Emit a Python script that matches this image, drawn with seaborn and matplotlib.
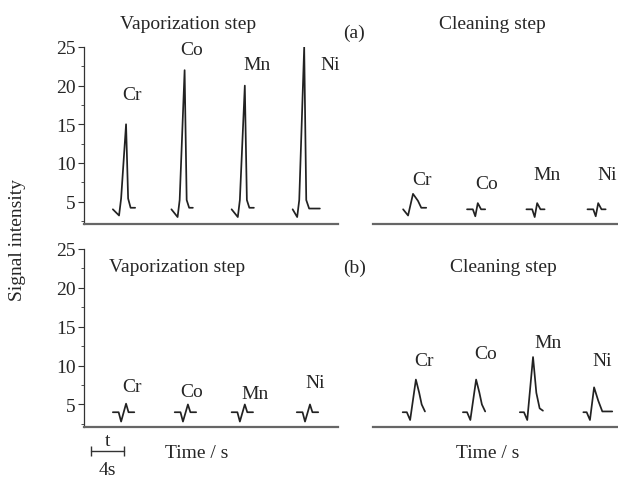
import matplotlib
matplotlib.use("Agg")
import matplotlib.pyplot as plt
import seaborn as sns
import pandas as pd
from matplotlib.ticker import MultipleLocator

sns.set_theme(style="white")
plt.rcParams['font.family'] = ['Liberation Serif', 'DejaVu Serif']

elements = ["Cr", "Co", "Mn", "Ni"]
y_ticks = [5, 10, 15, 20, 25]

# ---- (a) vaporization step: peak times (s) and traces (offsets from peak, signal)
vap_a_centers = [5.1, 12.2, 19.5, 26.7]
vap_a_offsets = [[-1.6, -0.85, -0.6, 0.0, 0.25, 0.55, 1.1],
                 [-1.6, -0.85, -0.6, 0.0, 0.25, 0.55, 1.0],
                 [-1.6, -0.85, -0.6, 0.0, 0.25, 0.55, 1.1],
                 [-1.4, -0.85, -0.6, 0.0, 0.25, 0.6, 1.9]]
vap_a_signal = [[4.0, 3.2, 5.4, 15.0, 5.4, 4.2, 4.2],
                [4.0, 3.0, 5.2, 22.0, 5.2, 4.2, 4.2],
                [4.0, 3.0, 5.2, 20.0, 5.2, 4.2, 4.2],
                [4.0, 3.0, 5.2, 25.0, 5.2, 4.1, 4.1]]
vap_a_label_x = [5.8, 13.1, 21.0, 29.8]
vap_a_label_y = [18.9, 24.7, 22.8, 22.8]

# ---- (a) cleaning step
cln_a_centers = [4.85, 12.7, 19.9, 27.3]
cln_a_offsets = [[-1.2, -0.6, 0.0, 0.6, 1.0, 1.6],
                 [-1.3, -0.6, -0.3, 0.0, 0.4, 0.9],
                 [-1.3, -0.6, -0.3, 0.0, 0.4, 0.9],
                 [-1.3, -0.6, -0.3, 0.0, 0.4, 0.9]]
cln_a_signal = [[4.0, 3.2, 6.0, 5.1, 4.2, 4.2],
                [4.0, 4.0, 3.1, 4.8, 4.0, 4.0],
                [4.0, 4.0, 3.0, 4.8, 4.0, 4.0],
                [4.0, 4.0, 3.1, 4.8, 4.0, 4.0]]
cln_a_label_x = [5.9, 13.8, 21.1, 28.4]
cln_a_label_y = [7.9, 7.3, 8.5, 8.5]

# ---- (b) vaporization step
vap_b_centers = [5.1, 12.6, 19.5, 27.4]
vap_b_offsets = [[-1.6, -0.9, -0.6, 0.0, 0.3, 1.0]] * 4
vap_b_signal = [[4.0, 4.0, 2.8, 5.1, 4.0, 4.0],
                [4.0, 4.0, 2.8, 5.0, 4.0, 4.0],
                [4.0, 4.0, 2.8, 5.0, 4.0, 4.0],
                [4.0, 4.0, 2.8, 5.0, 4.0, 4.0]]
vap_b_label_x = [5.8, 13.0, 20.7, 28.0]
vap_b_label_y = [7.3, 6.7, 6.4, 7.8]

# ---- (b) cleaning step
cln_b_centers = [5.2, 12.5, 19.4, 26.8]
cln_b_offsets = [[-1.6, -1.1, -0.7, 0.0, 0.4, 0.7, 1.1],
                 [-1.6, -1.1, -0.7, 0.0, 0.4, 0.7, 1.1],
                 [-1.6, -1.1, -0.7, 0.0, 0.4, 0.8, 1.2],
                 [-1.3, -0.9, -0.5, 0.0, 0.5, 1.0, 2.2]]
cln_b_signal = [[4.0, 4.0, 3.0, 8.2, 6.5, 5.0, 4.1],
                [4.0, 4.0, 3.0, 8.2, 6.5, 5.0, 4.1],
                [4.0, 4.0, 3.0, 11.1, 6.5, 4.5, 4.2],
                [4.0, 4.0, 3.0, 7.2, 5.5, 4.1, 4.1]]
cln_b_label_x = [6.2, 13.6, 21.2, 27.8]
cln_b_label_y = [10.7, 11.5, 13.0, 10.7]

W, H = 618, 481
fig = plt.figure(figsize=(W / 100, H / 100), dpi=100)

def px_axes(x0, x1, ytop, ybot):
    return fig.add_axes([x0 / W, 1 - ybot / H, (x1 - x0) / W, (ybot - ytop) / H])

ax_va = px_axes(84, 338, 48, 225)
ax_ca = px_axes(373, 618, 48, 225)
ax_vb = px_axes(84, 338, 250, 428)
ax_cb = px_axes(373, 618, 250, 428)

FS = 14
LINE = "#222222"
SPINE = "#666666"

def style(ax, show_y, xmax):
    ax.set_xlim(0, xmax)
    ax.set_ylim(2.1, 25)
    ax.set_facecolor("none")
    for s in ["top", "right"]:
        ax.spines[s].set_visible(False)
    ax.spines["bottom"].set_color(SPINE)
    ax.spines["bottom"].set_linewidth(1.6)
    ax.set_xticks([])
    ax.set_xlabel("")
    ax.set_ylabel("")
    if show_y:
        ax.spines["left"].set_color("#333333")
        ax.spines["left"].set_linewidth(0.9)
        ax.spines["left"].set_bounds(2.1, 25)
        ax.set_yticks(y_ticks)
        ax.set_yticklabels([str(v) for v in y_ticks], fontsize=FS)
        ax.yaxis.set_minor_locator(MultipleLocator(2.5))
        ax.tick_params(axis="y", which="major", direction="out", length=4,
                       width=0.8, color="#333333", pad=2, left=True)
        ax.tick_params(axis="y", which="minor", direction="out", length=2,
                       width=0.6, color="#333333", left=True)
    else:
        ax.spines["left"].set_visible(False)
        ax.set_yticks([])

def draw(ax, centers, offsets, signal, lx, ly):
    for i, el in enumerate(elements):
        df = pd.DataFrame({"t": [centers[i] + o for o in offsets[i]],
                           "s": signal[i]})
        sns.lineplot(data=df, x="t", y="s", ax=ax, sort=False, color=LINE,
                     linewidth=1.25, estimator=None)
        ax.text(lx[i], ly[i], el, ha="center", va="center", fontsize=FS,
                clip_on=False)

draw(ax_va, vap_a_centers, vap_a_offsets, vap_a_signal, vap_a_label_x, vap_a_label_y)
draw(ax_ca, cln_a_centers, cln_a_offsets, cln_a_signal, cln_a_label_x, cln_a_label_y)
draw(ax_vb, vap_b_centers, vap_b_offsets, vap_b_signal, vap_b_label_x, vap_b_label_y)
draw(ax_cb, cln_b_centers, cln_b_offsets, cln_b_signal, cln_b_label_x, cln_b_label_y)

style(ax_va, True, 30.8)
style(ax_ca, False, 29.7)
style(ax_vb, True, 30.8)
style(ax_cb, False, 29.7)

# titles and panel tags
ax_va.text(12.6, 28.0, "Vaporization step", ha="center", va="center", fontsize=FS, clip_on=False)
ax_ca.text(14.5, 28.0, "Cleaning step", ha="center", va="center", fontsize=FS, clip_on=False)
ax_va.text(32.8, 26.9, "(a)", ha="center", va="center", fontsize=FS, clip_on=False)
ax_vb.text(11.3, 22.8, "Vaporization step", ha="center", va="center", fontsize=FS, clip_on=False)
ax_cb.text(15.8, 22.7, "Cleaning step", ha="center", va="center", fontsize=FS, clip_on=False)
ax_vb.text(32.8, 22.7, "(b)", ha="center", va="center", fontsize=FS, clip_on=False)

# x labels
ax_vb.text(13.7, -1.2, "Time / s", ha="center", va="center", fontsize=FS, clip_on=False)
ax_cb.text(13.9, -1.2, "Time / s", ha="center", va="center", fontsize=FS, clip_on=False)

# time scale bar
scale_bar_t = [0.85, 4.85]
ax_vb.plot(scale_bar_t, [-0.94, -0.94], color="#333333", lw=1.0, clip_on=False,
           marker="|", markersize=7, markeredgewidth=1.0)
ax_vb.text(2.85, 0.3, "t", ha="center", va="center", fontsize=FS, clip_on=False)
ax_vb.text(2.85, -3.4, "4s", ha="center", va="center", fontsize=FS, clip_on=False)

fig.text(18 / W, 1 - 240 / H, "Signal intensity", rotation=90, ha="center",
         va="center", fontsize=FS)

fig.savefig("out.png", dpi=100)
